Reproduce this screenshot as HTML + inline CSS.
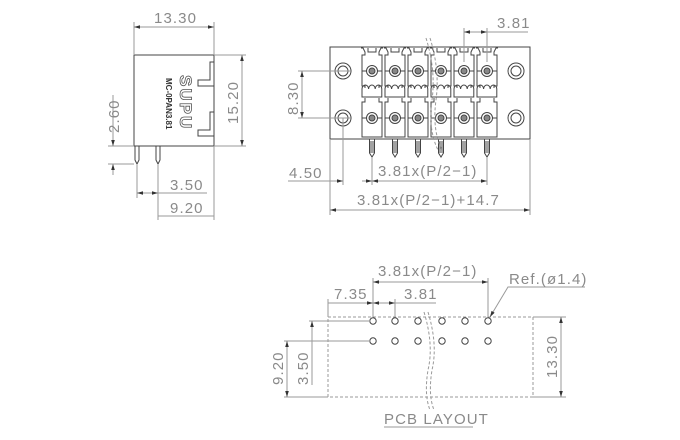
<!DOCTYPE html>
<html><head><meta charset="utf-8"><style>
html,body{margin:0;padding:0;background:#fff;}
svg{display:block;}
text{font-family:"Liberation Sans",sans-serif;fill:#8a8a8a;font-size:15px;letter-spacing:1.1px;}
.d{stroke:#9a9a9a;stroke-width:1;fill:none;}
.o{stroke:#444;stroke-width:1;fill:none;}
.dash{stroke:#999;stroke-width:1;fill:none;stroke-dasharray:3,2;}
</style></head><body>
<svg width="680" height="440" viewBox="0 0 680 440" xmlns="http://www.w3.org/2000/svg">
<defs>
<marker id="a" viewBox="0 0 10 10" refX="10" refY="5" markerWidth="8" markerHeight="6" orient="auto-start-reverse" markerUnits="userSpaceOnUse"><path d="M0,2 L10,5 L0,8 z" fill="#333"/></marker>
<g id="col">
 <path class="o" d="M-11,48 L-9,48 L-7,52 L-7,55 L-10,55 L-10,86 L-7,86 L-7,88 M11,48 L9,48 L7,52 L7,55 L10,55 L10,86 L7,86 L7,88 M-4,48 L-4,52 L4,52 L4,48"/>
 <path class="o" d="M-10,89 a3.3,4 0 0 1 6.6,0 a3.3,4 0 0 1 6.6,0 a3.3,4 0 0 1 6.6,0 L9.8,97 L-10,97 z"/>
 <path class="o" d="M-7,98 L-7,102 L-10,102 L-10,137 L10,137 L10,102 L7,102 L7,98"/>
 <circle class="o" cx="0" cy="71" r="5.5"/><circle cx="0" cy="71" r="3" fill="#888" stroke="#444"/>
 <circle class="o" cx="0" cy="118" r="5.5"/><circle cx="0" cy="118" r="3" fill="#888" stroke="#444"/>
 <line class="o" x1="-10" y1="71" x2="-5.5" y2="71"/><line class="o" x1="5.5" y1="71" x2="10" y2="71"/>
 <line class="o" x1="-10" y1="118" x2="-5.5" y2="118"/><line class="o" x1="5.5" y1="118" x2="10" y2="118"/>
 <path class="o" d="M-2.5,139 L-2.5,153 L0,157 L2.5,153 L2.5,139 M-1,141 L-1,153 M1,141 L1,153"/>
</g>
</defs>

<!-- SIDE VIEW -->
<rect class="o" x="134" y="55" width="80" height="91"/>
<path class="o" d="M214,62 L210,62 L210,80 L198,80 L198,86 L210,86 L214,86 M214,112 L210,112 L210,130 L198,130 L198,136 L210,136 L214,136"/>
<text transform="translate(180,75) rotate(90)" style="font-size:17px;font-weight:bold;fill:none;stroke:#555;stroke-width:0.8;letter-spacing:2px">SUPU</text>
<text transform="translate(166,78) rotate(90)" style="font-size:8px;fill:#333;font-weight:bold;letter-spacing:0">MC-0PAN3.81</text>
<path class="o" d="M135,146 L135,160 L137,164 L139,160 L139,146 M156,146 L156,160 L158,164 L160,160 L160,146"/>
<line class="d" x1="134" y1="55" x2="134" y2="22"/><line class="d" x1="214" y1="55" x2="214" y2="22"/>
<line class="d" x1="134" y1="27" x2="214" y2="27" marker-start="url(#a)" marker-end="url(#a)"/>
<text x="154" y="23">13.30</text>
<line class="d" x1="214" y1="55" x2="246" y2="55"/><line class="d" x1="214" y1="146" x2="246" y2="146"/>
<line class="d" x1="242" y1="55" x2="242" y2="146" marker-start="url(#a)" marker-end="url(#a)"/>
<text transform="translate(238,124) rotate(-90)">15.20</text>
<line class="d" x1="108" y1="146" x2="134" y2="146"/>
<line class="d" x1="113" y1="95" x2="113" y2="146" marker-end="url(#a)"/>
<line class="d" x1="113" y1="175" x2="113" y2="164" marker-end="url(#a)"/>
<line class="d" x1="108" y1="164" x2="134" y2="164"/>
<text transform="translate(119,133) rotate(-90)">2.60</text>
<line class="d" x1="137" y1="164" x2="137" y2="198"/><line class="d" x1="158" y1="164" x2="158" y2="220"/>
<line class="d" x1="214" y1="146" x2="214" y2="220"/>
<line class="d" x1="137" y1="193" x2="158" y2="193" marker-start="url(#a)" marker-end="url(#a)"/>
<line class="d" x1="158" y1="193" x2="207" y2="193"/>
<text x="170" y="190">3.50</text>
<line class="d" x1="158" y1="216" x2="214" y2="216"/>
<text x="170" y="213">9.20</text>

<!-- FRONT VIEW -->
<path class="o" d="M330,47 L530,47 L530,139 L330,139 z"/>
<circle class="o" cx="343" cy="71" r="8"/><circle class="o" cx="343" cy="71" r="5"/>
<circle class="o" cx="343" cy="118" r="8"/><circle class="o" cx="343" cy="118" r="5"/>
<circle class="o" cx="516" cy="71" r="8"/><circle class="o" cx="516" cy="71" r="5"/>
<circle class="o" cx="516" cy="118" r="8"/><circle class="o" cx="516" cy="118" r="5"/>
<use href="#col" x="372"/><use href="#col" x="395"/><use href="#col" x="418"/>
<use href="#col" x="441"/><use href="#col" x="464"/><use href="#col" x="487"/>
<path class="dash" d="M426,38 Q436,70 432,100 Q428,130 438,150 M430,38 Q440,70 436,100 Q432,130 442,150"/>
<line class="d" x1="298" y1="71" x2="352" y2="71"/><line class="d" x1="298" y1="118" x2="352" y2="118"/>
<line class="d" x1="302" y1="71" x2="302" y2="118" marker-start="url(#a)" marker-end="url(#a)"/>
<text transform="translate(298,115) rotate(-90)">8.30</text>
<line class="d" x1="464" y1="62" x2="464" y2="28"/><line class="d" x1="487" y1="62" x2="487" y2="28"/>
<line class="d" x1="464" y1="32" x2="487" y2="32" marker-start="url(#a)" marker-end="url(#a)"/>
<line class="d" x1="487" y1="32" x2="528" y2="32"/>
<text x="497" y="28">3.81</text>
<line class="d" x1="343" y1="118" x2="343" y2="185"/><line class="d" x1="372" y1="158" x2="372" y2="185"/><line class="d" x1="487" y1="158" x2="487" y2="185"/>
<line class="d" x1="288" y1="181" x2="343" y2="181" marker-end="url(#a)"/>
<line class="d" x1="362" y1="181" x2="372" y2="181" marker-end="url(#a)"/>
<line class="d" x1="372" y1="181" x2="487" y2="181" marker-start="url(#a)" marker-end="url(#a)"/>
<text x="289" y="178">4.50</text>
<text x="378" y="176">3.81x(P/2−1)</text>
<line class="d" x1="330" y1="139" x2="330" y2="215"/><line class="d" x1="530" y1="139" x2="530" y2="215"/>
<line class="d" x1="330" y1="210" x2="530" y2="210" marker-start="url(#a)" marker-end="url(#a)"/>
<text x="357" y="205">3.81x(P/2−1)+14.7</text>

<!-- PCB LAYOUT -->
<rect class="dash" x="328" y="317" width="205" height="80"/>
<g class="o" stroke="#777">
<circle cx="373" cy="321" r="3.2"/><circle cx="395" cy="321" r="3.2"/><circle cx="418" cy="321" r="3.2"/><circle cx="442" cy="321" r="3.2"/><circle cx="465" cy="321" r="3.2"/><circle cx="488" cy="321" r="3.2"/>
<circle cx="373" cy="341" r="3.2"/><circle cx="395" cy="341" r="3.2"/><circle cx="418" cy="341" r="3.2"/><circle cx="442" cy="341" r="3.2"/><circle cx="465" cy="341" r="3.2"/><circle cx="488" cy="341" r="3.2"/>
</g>
<path class="dash" d="M424,312 Q434,345 428,370 Q424,395 430,410 M428,312 Q438,345 432,370 Q428,395 434,410"/>
<line class="d" x1="373" y1="317" x2="373" y2="278"/><line class="d" x1="395" y1="317" x2="395" y2="299"/><line class="d" x1="488" y1="317" x2="488" y2="278"/>
<line class="d" x1="328" y1="317" x2="328" y2="299"/>
<line class="d" x1="373" y1="282" x2="488" y2="282" marker-start="url(#a)" marker-end="url(#a)"/>
<text x="378" y="276">3.81x(P/2−1)</text>
<line class="d" x1="328" y1="303" x2="373" y2="303" marker-end="url(#a)"/>
<line class="d" x1="373" y1="303" x2="395" y2="303" marker-start="url(#a)" marker-end="url(#a)"/>
<line class="d" x1="395" y1="303" x2="436" y2="303"/>
<text x="334" y="299">7.35</text>
<text x="404" y="299">3.81</text>
<path class="d" d="M585,287 L508,287 L490,317" marker-end="url(#a)"/>
<text x="509" y="284">Ref.(ø1.4)</text>
<line class="d" x1="533" y1="317" x2="566" y2="317"/><line class="d" x1="533" y1="397" x2="566" y2="397"/>
<line class="d" x1="561" y1="317" x2="561" y2="397" marker-start="url(#a)" marker-end="url(#a)"/>
<text transform="translate(557,378) rotate(-90)">13.30</text>
<line class="d" x1="309" y1="321" x2="370" y2="321"/><line class="d" x1="284" y1="341" x2="370" y2="341"/>
<line class="d" x1="284" y1="397" x2="328" y2="397"/>
<line class="d" x1="312" y1="321" x2="312" y2="341" marker-start="url(#a)"/>
<line class="d" x1="312" y1="341" x2="312" y2="385"/>
<line class="d" x1="287" y1="341" x2="287" y2="397" marker-start="url(#a)" marker-end="url(#a)"/>
<text transform="translate(308,385) rotate(-90)">3.50</text>
<text transform="translate(283,385) rotate(-90)">9.20</text>
<text x="384" y="424">PCB LAYOUT</text>
<line class="d" x1="384" y1="427" x2="473" y2="427"/>
</svg>
</body></html>
